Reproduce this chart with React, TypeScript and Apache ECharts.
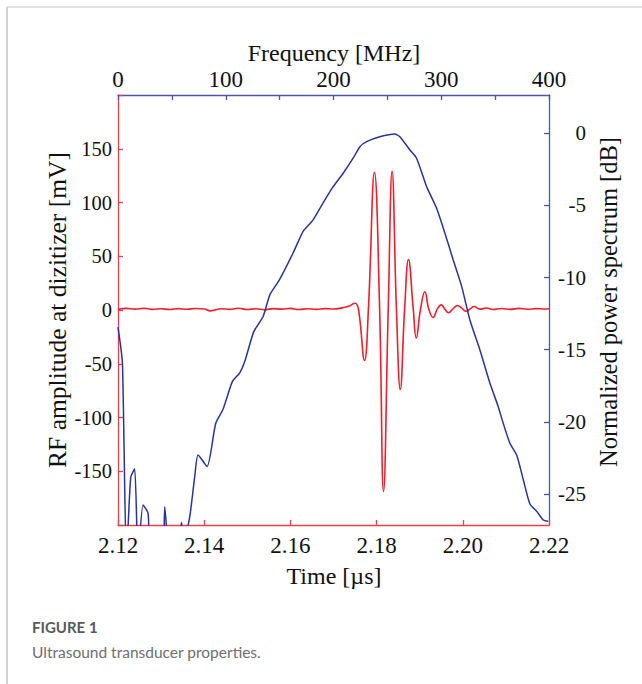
import React, { useEffect, useRef } from "react";
import * as echarts from "echarts";

// Time-domain RF signal (time in µs, amplitude in mV)
const TIME_US = [
  2.12, 2.122, 2.124, 2.126, 2.128, 2.13, 2.132, 2.134, 2.136, 2.138, 2.14, 2.1414,
  2.144, 2.146, 2.148, 2.15, 2.152, 2.154, 2.156, 2.158, 2.16, 2.162, 2.164, 2.166,
  2.168, 2.17, 2.172, 2.1735, 2.175, 2.1758, 2.1772, 2.1781, 2.1795, 2.1807, 2.1816,
  2.1827, 2.1836, 2.1846, 2.1855, 2.1865, 2.1874, 2.1885, 2.1892, 2.1902, 2.1912,
  2.1921, 2.1931, 2.1941, 2.195, 2.1958, 2.1967, 2.1977, 2.1988, 2.1998, 2.2008,
  2.2017, 2.2026, 2.204, 2.2055, 2.207, 2.209, 2.211, 2.213, 2.215, 2.217, 2.219, 2.22,
];
const RF_MV = [
  0.5, 1.5, 0.8, 1.6, 0.6, 1.2, 0.4, 1.3, 0.7, 1.4, 0.9, -0.8,
  1.2, 0.6, 1.6, 0.5, 1.1, 0.3, 1.3, 0.8, 1.5, 0.4, 1.2, 0.6,
  1.3, 0.9, 2.0, 3.5, 6.3, 0.5, -47, 1, 128, 1, -169,
  1, 129, 1, -74, 1, 47, 1, -26, 1, 17,
  1, -7, 1, 4.8, 1, -2.5, 1, 4.2, 1.5, -1.2,
  1, 3.2, 0.8, 1.8, 0.5, 1.4, 0.6, 1.5, 0.7, 1.3, 0.9, 1.1,
];

// Normalized power spectrum (frequency in MHz, power in dB)
const FREQ_MHZ = [
  0, 4.1, 7.8, 11.8, 15.5, 18.6, 23.2, 27.9, 29.5, 35, 41.8, 43.4, 47.4, 53, 58.9, 61.5,
  66.6, 71.2, 74.3, 82.7, 90.7, 97.5, 106.2, 113, 117.7, 126, 134.7, 140.9, 149.5,
  162.5, 171.8, 181.1, 192, 199.7, 209, 218.2, 224.5, 230.7, 243, 257, 261.6, 270.9,
  277.1, 286.4, 295.7, 303.4, 311.1, 319, 326.6, 335.9, 345.2, 352.9, 357.5, 363.8,
  370, 376.1, 382.3, 388.6, 394.7, 399.3,
];
const POWER_DB = [
  -13.44, -15.94, -29.5, -23.84, -23.26, -29.5, -25.76, -26.33, -29.5, -31, -29.5, -25.88, -29.5, -31, -26.98, -28.2,
  -26.57, -23.8, -22.3, -23.1, -20.1, -19.13, -17.2, -16.6, -15.8, -13.75, -12.7, -11.2, -10.2,
  -8.3, -6.8, -6.0, -4.62, -3.7, -2.77, -1.73, -0.93, -0.58, -0.24, -0.05, -0.24, -1.16,
  -1.73, -3.7, -5.2, -6.93, -8.78, -10.63, -12.94, -15.02, -17.33, -18.95, -20.1, -21.5,
  -22.3, -24.0, -25.7, -26.2, -26.8, -26.9,
];

const DB_TICKS = [-25, -20, -15, -10, -5, 0];

const SERIF = '"Liberation Serif", "Times New Roman", serif';
const RED = "#ee1f2d";
const RED_AXIS = "#e8404e";
const BLUE = "#2a339a";
const BLUE_AXIS = "#4a55ad";
const TEXT = "#111111";

export default function App() {
  const ref = useRef<HTMLDivElement>(null);

  useEffect(() => {
    if (!ref.current) return;
    const chart = echarts.init(ref.current, null, { renderer: "svg" });

    const rfData = TIME_US.map((t, i) => [t, RF_MV[i]]);
    const specData = FREQ_MHZ.map((f, i) => [f, POWER_DB[i]]);

    const labelBase = { color: TEXT, fontSize: 23, fontFamily: SERIF };

    const titleStyle = (text: string, size: number) => ({
      text,
      font: `${size}px ${SERIF}`,
      fill: TEXT,
      align: "center",
      verticalAlign: "middle",
      textAlign: "center",
      textVerticalAlign: "middle",
    });

    chart.setOption({
      animation: false,
      backgroundColor: "#ffffff",
      grid: { left: 118, top: 95, width: 431, height: 430, containLabel: false },
      xAxis: [
        {
          type: "value",
          position: "bottom",
          min: 2.12,
          max: 2.22,
          interval: 0.02,
          axisLine: { show: true, onZero: false, lineStyle: { color: RED_AXIS, width: 1.3 } },
          axisTick: { show: true, inside: true, length: 5, lineStyle: { color: RED_AXIS, width: 1.3 } },
          axisLabel: { ...labelBase, margin: 9, formatter: (v: number) => v.toFixed(2) },
          splitLine: { show: false },
        },
        {
          type: "value",
          position: "top",
          min: 0,
          max: 400,
          interval: 50,
          axisLine: { show: true, onZero: false, lineStyle: { color: BLUE_AXIS, width: 1.3 } },
          axisTick: { show: true, inside: true, length: 5, lineStyle: { color: BLUE_AXIS, width: 1.3 } },
          axisLabel: {
            ...labelBase,
            margin: 4,
            formatter: (v: number) => (Math.round(v) % 100 === 0 ? String(Math.round(v)) : ""),
          },
          splitLine: { show: false },
        },
      ],
      yAxis: [
        {
          type: "value",
          position: "left",
          min: -200,
          max: 200,
          interval: 50,
          axisLine: { show: true, onZero: false, lineStyle: { color: RED_AXIS, width: 1.3 } },
          axisTick: { show: true, inside: true, length: 5, lineStyle: { color: RED_AXIS, width: 1.3 } },
          axisLabel: {
            ...labelBase,
            fontSize: 20.5,
            margin: 6,
            formatter: (v: number) => (Math.abs(v) >= 199 ? "" : String(Math.round(v))),
          },
          splitLine: { show: false },
        },
        {
          type: "value",
          position: "right",
          min: -27.15,
          max: 2.65,
          axisLine: { show: true, onZero: false, lineStyle: { color: BLUE_AXIS, width: 1.3 } },
          axisTick: {
            show: true,
            inside: true,
            length: 5,
            customValues: DB_TICKS,
            lineStyle: { color: BLUE_AXIS, width: 1.3 },
          },
          axisLabel: {
            ...labelBase,
            fontSize: 21,
            margin: 37,
            align: "right",
            customValues: DB_TICKS,
            formatter: (v: number) => String(Math.round(v)),
          },
          splitLine: { show: false },
        },
      ],
      series: [
        {
          type: "line",
          name: "RF",
          xAxisIndex: 0,
          yAxisIndex: 0,
          data: rfData,
          smooth: 0.45,
          symbol: "none",
          lineStyle: { color: RED, width: 1.6 },
          z: 2,
        },
        {
          type: "line",
          name: "Spectrum",
          xAxisIndex: 1,
          yAxisIndex: 1,
          data: specData,
          smooth: 0.2,
          symbol: "none",
          clip: true,
          lineStyle: { color: BLUE, width: 1.5 },
          z: 3,
        },
      ],
      graphic: [
        { type: "line", shape: { x1: 7, y1: 7, x2: 642, y2: 7 }, style: { stroke: "#d9d9d9", lineWidth: 1.5 } },
        { type: "line", shape: { x1: 7, y1: 7, x2: 7, y2: 684 }, style: { stroke: "#c6c6c6", lineWidth: 1.5 } },
        { type: "text", x: 334, y: 53, style: titleStyle("Frequency [MHz]", 24) },
        { type: "text", x: 334, y: 576, style: titleStyle("Time [µs]", 24) },
        {
          type: "text",
          x: 57,
          y: 310,
          rotation: Math.PI / 2,
          style: titleStyle("RF amplitude at dizitizer [mV]", 25.5),
        },
        {
          type: "text",
          x: 608,
          y: 302,
          rotation: Math.PI / 2,
          style: titleStyle("Normalized power spectrum [dB]", 24.5),
        },
        {
          type: "text",
          x: 32,
          y: 627,
          style: {
            text: "FIGURE 1",
            font: 'bold 15px Lato, "Open Sans", sans-serif',
            fill: "#5a5a5a",
            align: "left",
            verticalAlign: "middle",
            textAlign: "left",
            textVerticalAlign: "middle",
          },
        },
        {
          type: "text",
          x: 32,
          y: 652,
          style: {
            text: "Ultrasound transducer properties.",
            font: '15.5px Lato, "Open Sans", sans-serif',
            fill: "#6e6e6e",
            align: "left",
            verticalAlign: "middle",
            textAlign: "left",
            textVerticalAlign: "middle",
          },
        },
      ],
    });

    return () => {
      chart.dispose();
    };
  }, []);

  return (
    <div
      ref={ref}
      style={{ position: "fixed", left: 0, top: 0, width: 642, height: 684, background: "#ffffff" }}
    />
  );
}
